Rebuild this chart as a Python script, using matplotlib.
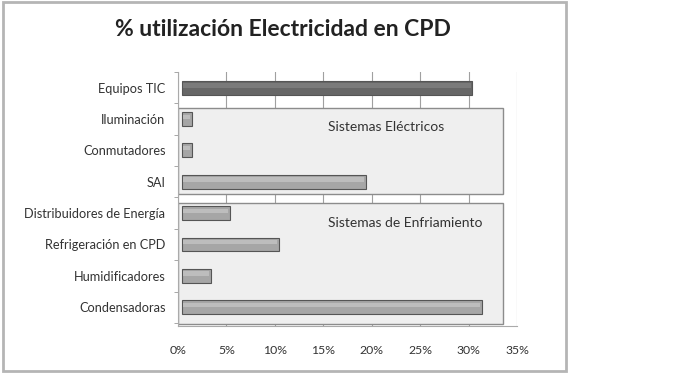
import matplotlib
matplotlib.use("Agg")
import matplotlib.pyplot as plt
from matplotlib.patches import Rectangle

plt.rcParams['font.family'] = ['Lato', 'DejaVu Sans']

# data
categorias = ['Equipos TIC', 'Iluminación', 'Conmutadores', 'SAI',
              'Distribuidores de Energía', 'Refrigeración en CPD',
              'Humidificadores', 'Condensadoras']
valores = [30, 1, 1, 19, 5, 10, 3, 31]
colores = ['#666666'] + ['#a6a6a6'] * 7
brillos = ['#7a7a7a'] + ['#bdbdbd'] * 7
xticks = [0, 5, 10, 15, 20, 25, 30, 35]
grupos = ['Sistemas Eléctricos', 'Sistemas de Enfriamiento']

fig = plt.figure(figsize=(6.8, 3.84), dpi=100)
fig.patches.append(Rectangle((3 / 680, 1 - 371 / 384), 563 / 680, 369 / 384,
                             transform=fig.transFigure, fill=False,
                             edgecolor='#b5b5b5', linewidth=2))

ax = fig.add_axes([178 / 680, 1 - 326 / 384, 339 / 680, 254 / 384])

# group boxes
ax.add_patch(Rectangle((0, 0.66), 33.6, 2.74, facecolor='#efefef',
                       edgecolor='#8c8c8c', linewidth=1, zorder=1))
ax.add_patch(Rectangle((0, 3.68), 33.6, 3.85, facecolor='#efefef',
                       edgecolor='#8c8c8c', linewidth=1, zorder=1))

y = list(range(len(categorias)))
ax.barh(y, valores, height=0.44, left=0.4, color=colores,
        edgecolor='#555555', linewidth=0.8, zorder=3)
# highlight stripe for a bit of depth
ax.barh([i - 0.07 for i in y], [v - 0.3 for v in valores], height=0.14, left=0.5,
        color=brillos, linewidth=0, zorder=4)

ax.text(15.5, 1.26, grupos[0], fontsize=10, color='#333333', va='center', zorder=5)
ax.text(15.5, 4.3, grupos[1], fontsize=10, color='#333333', va='center', zorder=5)

ax.set_xlim(0, 35)
ax.set_ylim(7.6, -0.4)
ax.set_xticks(xticks)
ax.set_xticklabels([f'{v}%' for v in xticks], fontsize=8.8, color='#333333')
ax.set_yticks(y)
ax.set_yticklabels(categorias, fontsize=9.2, color='#333333')
ax.set_yticks([i + 0.5 for i in range(-1, 8)], minor=True)
ax.tick_params(axis='y', which='major', length=0, pad=9)
ax.tick_params(axis='y', which='minor', length=3, color='#999999')
ax.tick_params(axis='x', length=0, pad=14)
ax.grid(axis='x', color='#a0a0a0', linewidth=0.8, zorder=2)
ax.set_axisbelow(True)
for s in ['top', 'right']:
    ax.spines[s].set_visible(False)
for s in ['left', 'bottom']:
    ax.spines[s].set_color('#aaaaaa')

fig.text(283 / 680, 1 - 30 / 384, '% utilización Electricidad en CPD',
         ha='center', va='center', fontsize=16.5, fontweight='bold', color='#222222')

fig.savefig('out.png', dpi=100, facecolor='white')
